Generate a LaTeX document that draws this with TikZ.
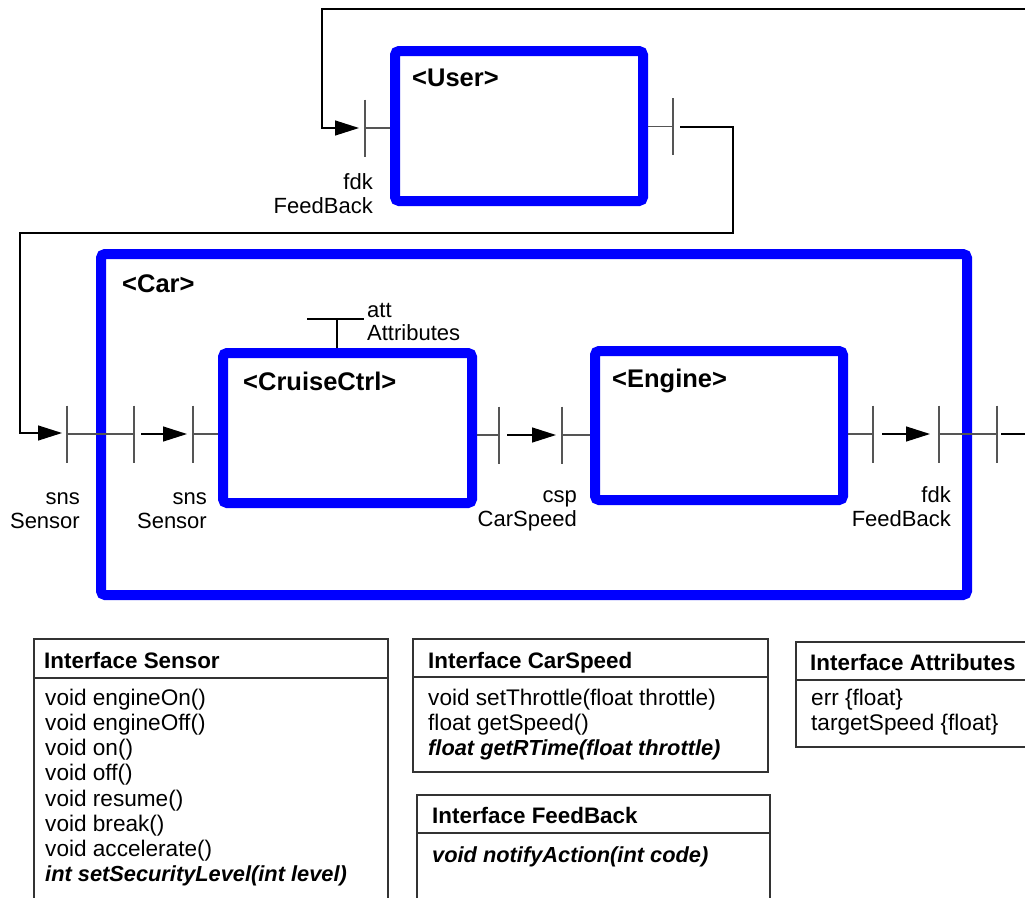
\documentclass[tikz,border=0pt]{standalone}
\usepackage{fontspec}
\setmainfont{Liberation Sans}
\usetikzlibrary{arrows.meta}
\definecolor{tickgray}{HTML}{555555}
\definecolor{ifgray}{HTML}{333333}
\begin{document}
\begin{tikzpicture}[x=1pt,y=-1pt,
  bluebox/.style={draw=blue, line width=10pt, rounded corners=4pt, inner sep=0pt},
  tickline/.style={draw=tickgray, line width=1.3pt},
  wire/.style={draw=black, line width=1.3pt},
  flow/.style={wire, -{Triangle[length=24pt,width=15pt]}},
  lbl/.style={inner sep=0pt, font=\fontsize{22}{24}\selectfont},
  ttl/.style={inner sep=0pt, font=\fontsize{25.5}{28}\selectfont\bfseries},
  iftitle/.style={inner sep=0pt, anchor=base west, font=\fontsize{22.4}{24}\selectfont\bfseries},
  ifitem/.style={inner sep=0pt, anchor=base west, font=\fontsize{22.6}{24}\selectfont},
  ifitemb/.style={inner sep=0pt, anchor=base west, font=\fontsize{21.8}{24}\selectfont\bfseries\itshape},
  ifbox/.style={draw=ifgray, line width=1.5pt},
  port/.pic={\draw[tickline] (0,-28.5) -- (0,28.5);}
]
\useasboundingbox (0,0) rectangle (1025,897);
\clip (0,0) rectangle (1025,897);

% ---- blue component boxes
\node[bluebox, minimum width=248pt, minimum height=150pt] (user) at (519,126) {};
\node[bluebox, minimum width=866pt, minimum height=341pt] (car) at (534,424.5) {};
\node[bluebox, minimum width=249pt, minimum height=150pt] (cruise) at (347.5,428) {};
\node[bluebox, minimum width=248pt, minimum height=149pt] (engine) at (719,425.5) {};

\node[ttl, anchor=base west] (usert) at (412,86) {<User>};
\node[ttl, anchor=base west] (cart) at (122,292) {<Car>};
\node[ttl, anchor=base west] (cruiset) at (243,390) {<CruiseCtrl>};
\node[ttl, anchor=base west] (enginet) at (612,387) {<Engine>};

% ---- User left port (feedback in)
\coordinate (fbA) at (1025,9);
\coordinate (fbB) at (322,9);
\coordinate (fbC) at (322,128);
\coordinate (fbD) at (359,128);
\coordinate (uL) at (365,128);
\draw[flow] (fbA) -- (fbB) -- (fbC) -- (fbD);
\pic at (uL) {port};
\draw[tickline] (uL) -- (user.west |- uL);
\node[lbl, anchor=base east] (ufdk) at (373,189) {fdk};
\node[lbl, anchor=base east] (ufb) at (373,213) {FeedBack};

% ---- User right port -> Car left port
\coordinate (uR) at (673,126.5);
\pic at (uR) {port};
\draw[tickline] (user.east |- uR) -- (uR);
\coordinate (snA) at (680,127);
\coordinate (snB) at (733,127);
\coordinate (snC) at (733,233);
\coordinate (snD) at (20,233);
\coordinate (snE) at (20,433);
\coordinate (snF) at (62,433);
\draw[flow] (snA) -- (snB) -- (snC) -- (snD) -- (snE) -- (snF);
\coordinate (cL1) at (67,434);
\pic at (cL1) {port};
\draw[tickline] (cL1) -- (car.west |- cL1);
\node[lbl, anchor=base east] (csns1) at (80,504) {sns};
\node[lbl, anchor=base east] (csen1) at (80,528) {Sensor};

% ---- Car inner -> CruiseCtrl
\coordinate (cL2) at (134,434);
\pic at (cL2) {port};
\draw[tickline] (car.west |- cL2) -- (cL2);
\coordinate (ar1s) at (141,434);
\coordinate (ar1e) at (187,434);
\draw[flow] (ar1s) -- (ar1e);
\coordinate (crL) at (193,434);
\pic at (crL) {port};
\draw[tickline] (crL) -- (cruise.west |- crL);
\node[lbl, anchor=base east] (csns2) at (207,504) {sns};
\node[lbl, anchor=base east] (csen2) at (207,528) {Sensor};

% ---- Attributes port on CruiseCtrl
\coordinate (atL) at (307,319);
\coordinate (atR) at (364,319);
\coordinate (atM) at (337,319);
\draw[wire, line width=1.2pt] (atL) -- (atR);
\draw[wire, line width=1.2pt] (atM) -- (cruise.north -| atM);
\node[lbl, anchor=base west] (att) at (367,317) {att};
\node[lbl, anchor=base west] (attr) at (367,340) {Attributes};

% ---- CruiseCtrl -> Engine
\coordinate (crR) at (499,435);
\pic at (crR) {port};
\draw[tickline] (cruise.east |- crR) -- (crR);
\coordinate (ar2s) at (507,435);
\coordinate (ar2e) at (556,435);
\draw[flow] (ar2s) -- (ar2e);
\coordinate (enL) at (562,435);
\pic at (enL) {port};
\draw[tickline] (enL) -- (engine.west |- enL);
\node[lbl, anchor=base east] (csp) at (577,502) {csp};
\node[lbl, anchor=base east] (cspd) at (577,526) {CarSpeed};

% ---- Engine -> Car right port
\coordinate (enR) at (873,434);
\pic at (enR) {port};
\draw[tickline] (engine.east |- enR) -- (enR);
\coordinate (ar3s) at (882,434);
\coordinate (ar3e) at (930,434);
\draw[flow] (ar3s) -- (ar3e);
\coordinate (cR1) at (939,434);
\pic at (cR1) {port};
\coordinate (cR2) at (997,434);
\pic at (cR2) {port};
\draw[tickline] (cR1) -- (cR2);
\coordinate (outA) at (1001,434);
\coordinate (outB) at (1025,434);
\draw[wire] (outA) -- (outB);
\node[lbl, anchor=base east] (efdk) at (951,502) {fdk};
\node[lbl, anchor=base east] (efb) at (951,526) {FeedBack};

% ---- Interface Sensor
\draw[ifbox] (34,905) -- (34,639) -- (388,639) -- (388,905);
\draw[ifbox] (34,678) -- (388,678);
\node[iftitle] (sT) at (44,668) {Interface Sensor};
\node[ifitem] (s1) at (45,705) {void engineOn()};
\node[ifitem] (s2) at (45,730) {void engineOff()};
\node[ifitem] (s3) at (45,755) {void on()};
\node[ifitem] (s4) at (45,780) {void off()};
\node[ifitem] (s5) at (45,806) {void resume()};
\node[ifitem] (s6) at (45,831) {void break()};
\node[ifitem] (s7) at (45,856) {void accelerate()};
\node[ifitemb] (s8) at (45,881) {int setSecurityLevel(int level)};

% ---- Interface CarSpeed
\draw[ifbox] (413,639) rectangle (768,772);
\draw[ifbox] (413,677) -- (768,677);
\node[iftitle] (cT) at (428,668) {Interface CarSpeed};
\node[ifitem] (c1) at (428,705) {void setThrottle(float throttle)};
\node[ifitem] (c2) at (428,730) {float getSpeed()};
\node[ifitemb] (c3) at (428,755) {float getRTime(float throttle)};

% ---- Interface FeedBack
\draw[ifbox] (417,905) -- (417,795) -- (770,795) -- (770,905);
\draw[ifbox] (417,833) -- (770,833);
\node[iftitle] (fT) at (432,823) {Interface FeedBack};
\node[ifitemb] (f1) at (432,862) {void notifyAction(int code)};

% ---- Interface Attributes
\draw[ifbox] (1030,642) -- (796,642) -- (796,747) -- (1030,747);
\draw[ifbox] (796,680) -- (1030,680);
\node[iftitle] (aT) at (810,670) {Interface Attributes};
\node[ifitem] (a1) at (811,705) {err \{float\}};
\node[ifitem] (a2) at (811,730) {targetSpeed \{float\}};
\end{tikzpicture}
\end{document}
